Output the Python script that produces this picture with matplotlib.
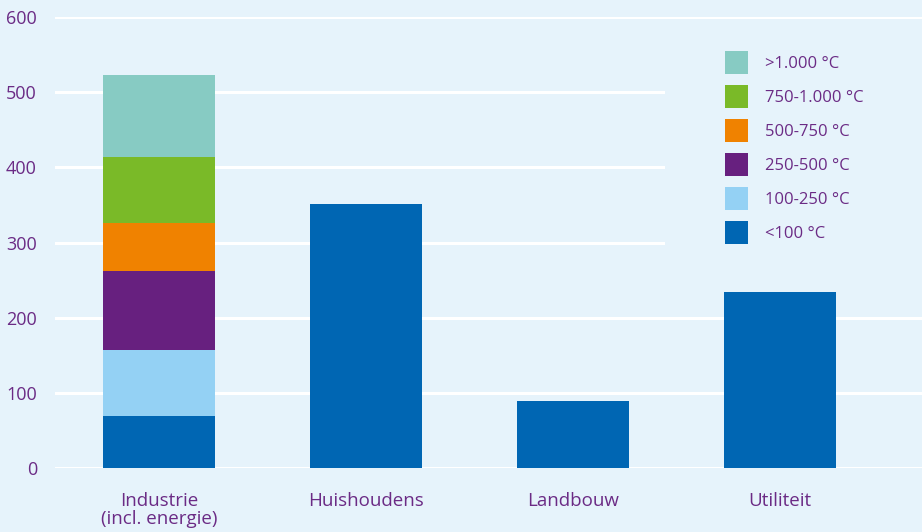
import numpy as np
import matplotlib.pyplot as plt
from matplotlib.patches import Rectangle

# Data (PJ)
sectoren = ["Industrie\n(incl. energie)", "Huishoudens", "Landbouw", "Utiliteit"]
klassen = ["<100 °C", "100-250 °C", "250-500 °C", "500-750 °C", "750-1.000 °C", ">1.000 °C"]
kleuren = ["#0066b3", "#94d1f4", "#67207f", "#f08200", "#7aba28", "#87cbc3"]

industrie = [69, 88, 105, 64, 88, 109]
overig = [351, 89, 234]  # alleen <100 °C

bg = "#e6f3fb"
paars = "#6b2b85"

plt.rcParams['font.family'] = ['Open Sans', 'DejaVu Sans']

fig = plt.figure(figsize=(9.22, 5.32), dpi=100, facecolor=bg)
ax = fig.add_axes([55 / 922, 64 / 532, 867 / 922, 451 / 532], facecolor=bg)

x = np.arange(len(sectoren))
breedte = 0.54

# gestapelde balk voor industrie
onder = 0
for waarde, klasse, kleur in zip(industrie, klassen, kleuren):
    ax.bar(x[0], waarde, breedte, bottom=onder, color=kleur, label=klasse, zorder=2)
    onder += waarde

# overige sectoren
ax.bar(x[1:], overig, breedte, color=kleuren[0], zorder=2)

ax.set_xlim(-0.502, 3.686)
ax.set_ylim(0, 600)
ax.set_yticks(np.arange(0, 601, 100))
ax.set_xticks(x)
ax.set_xticklabels(sectoren, linespacing=1.05)

ax.grid(axis='y', color='white', linewidth=2.2, zorder=0)
ax.set_axisbelow(True)
for s in ax.spines.values():
    s.set_visible(False)
ax.tick_params(axis='both', length=0, colors=paars)
ax.tick_params(axis='y', pad=13, labelsize=13)
ax.tick_params(axis='x', pad=17, labelsize=13.5)

# achtergrondvlak achter de legenda (verbergt rasterlijnen)
ax.add_patch(Rectangle((0.7036, 0.46), 0.3, 0.48, transform=ax.transAxes,
                       facecolor=bg, edgecolor='none', zorder=1))

h, l = ax.get_legend_handles_labels()
leg = ax.legend(h[::-1], l[::-1], loc='upper left', bbox_to_anchor=(725 / 922, 1 - 51 / 532),
                bbox_transform=fig.transFigure, frameon=False, fontsize=12,
                handlelength=1.38, handleheight=1.746, labelspacing=0.66,
                handletextpad=1.0, borderpad=0, borderaxespad=0)
for t in leg.get_texts():
    t.set_color(paars)

plt.savefig("out.png", dpi=100, facecolor=bg)
